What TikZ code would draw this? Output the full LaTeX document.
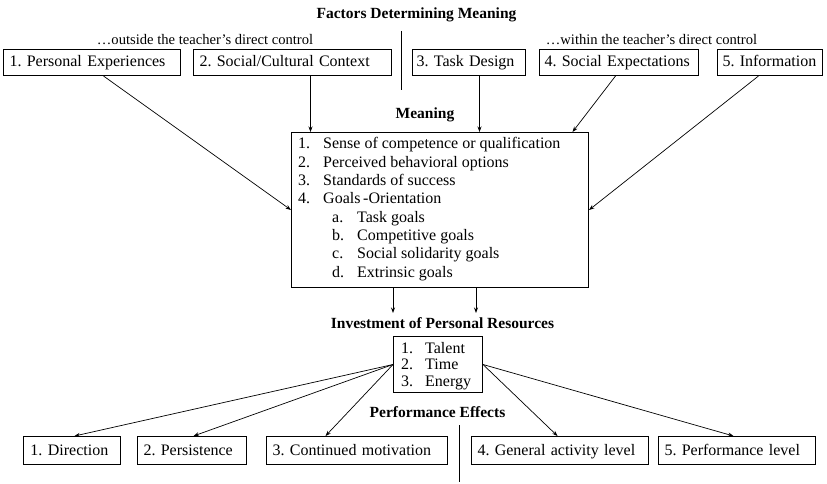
\documentclass[tikz,border=0pt]{standalone}
\usepackage{fontspec}
\setmainfont{Liberation Serif}
\usetikzlibrary{arrows.meta}
\begin{document}
\frenchspacing
\begin{tikzpicture}[x=1pt,y=-1pt,
  box/.style={draw, line width=1pt, anchor=north west, inner xsep=6pt, inner ysep=0pt,
    align=left, text height=12pt, text depth=3pt, font=\frenchspacing\fontsize{16}{19}\selectfont},
  bigbox/.style={draw, line width=1pt, anchor=north west, inner sep=0pt},
  ttl/.style={font=\fontsize{15.5}{18}\selectfont\bfseries, anchor=base, inner sep=0pt},
  sub/.style={font=\fontsize{14.6}{17}\selectfont, anchor=base, inner sep=0pt},
  lbl/.style={font=\fontsize{16}{19}\selectfont, anchor=base west, inner sep=0pt},
  arr/.style={line width=0.7pt, -{Stealth[length=5.5pt,width=4pt]}},
  sepline/.style={line width=1pt}]
\useasboundingbox (0,0) rectangle (827,484);

% titles
\node[ttl] (tFactors) at (416.5,19) {Factors Determining Meaning};
\node[sub] (tOut) at (205,45) {…outside the teacher’s direct control};
\node[sub] (tIn) at (651.5,45) {…within the teacher’s direct control};
\node[ttl] (tMeaning) at (425,119) {Meaning};
\node[ttl] (tInvest) at (442.5,328) {Investment of Personal Resources};
\node[ttl] (tPerf) at (437.5,417) {Performance Effects};

% separators
\coordinate (s1a) at (401,31); \coordinate (s1b) at (401,90);
\coordinate (s2a) at (459,425); \coordinate (s2b) at (459,482);
\draw[sepline] (s1a) -- (s1b);
\draw[sepline] (s2a) -- (s2b);

% top boxes
\node[box, minimum width=177, minimum height=26, text width=165] (pe) at (3,49) {\mbox{1. Personal Experiences}};
\node[box, minimum width=198, minimum height=26, text width=186] (sc) at (193,49) {\mbox{2. Social/Cultural Context}};
\node[box, minimum width=113, minimum height=26, text width=105, inner xsep=4pt] (td) at (412,49) {\mbox{3. Task Design}};
\node[box, minimum width=159, minimum height=26, text width=149, inner xsep=5pt] (se) at (539,49) {\mbox{4. Social Expectations}};
\node[box, minimum width=105, minimum height=26, text width=95, inner xsep=5pt] (inf) at (717,49) {\mbox{5. Information}};

% meaning box
\node[bigbox, minimum width=297, minimum height=155] (meaning) at (291,132) {};
\node[lbl] (m1n) at (298,149) {1.}; \node[lbl] (m1) at (323,149) {Sense of competence or qualification};
\node[lbl] (m2n) at (298,167.3) {2.}; \node[lbl] (m2) at (323,167.3) {Perceived behavioral options};
\node[lbl] (m3n) at (298,185.6) {3.}; \node[lbl] (m3) at (323,185.6) {Standards of success};
\node[lbl] (m4n) at (298,203.9) {4.}; \node[lbl] (m4) at (323,203.9) {Goals\,-Orientation};
\node[lbl] (m5n) at (332,222.2) {a.}; \node[lbl] (m5) at (357,222.2) {Task goals};
\node[lbl] (m6n) at (332,240.5) {b.}; \node[lbl] (m6) at (357,240.5) {Competitive goals};
\node[lbl] (m7n) at (332,258.8) {c.}; \node[lbl] (m7) at (357,258.8) {Social solidarity goals};
\node[lbl] (m8n) at (332,277.1) {d.}; \node[lbl] (m8) at (357,277.1) {Extrinsic goals};

% resource box
\node[bigbox, minimum width=89, minimum height=56] (res) at (393,336) {};
\node[lbl] (r1n) at (401,353) {1.}; \node[lbl] (r1) at (425,353) {Talent};
\node[lbl] (r2n) at (401,369.5) {2.}; \node[lbl] (r2) at (425,369.5) {Time};
\node[lbl] (r3n) at (401,386) {3.}; \node[lbl] (r3) at (425,386) {Energy};

% bottom boxes
\node[box, minimum width=95, minimum height=28, text width=83, inner xsep=7pt] (dir) at (23,436) {\mbox{1. Direction}};
\node[box, minimum width=109, minimum height=28, text width=97] (per) at (137,436) {\mbox{2. Persistence}};
\node[box, minimum width=181, minimum height=28, text width=169] (cm) at (266,436) {\mbox{3. Continued motivation}};
\node[box, minimum width=177, minimum height=28, text width=165] (gal) at (471,436) {\mbox{4. General activity level}};
\node[box, minimum width=157, minimum height=28, text width=145] (pl) at (658,436) {\mbox{5. Performance level}};

% arrows into meaning
\draw[arr] ([xshift=11.5pt]pe.south) -- (meaning.west);
\draw[arr] ([xshift=18pt]sc.south) -- ([xshift=18pt]sc.south |- meaning.north);
\draw[arr] ([xshift=10.5pt]td.south) -- ([xshift=10.5pt]td.south |- meaning.north);
\draw[arr] ([xshift=-3.5pt]se.south) -- ([xshift=132.5pt]meaning.north);
\draw[arr] ([xshift=-11.5pt]inf.south) -- (meaning.east);

% meaning down
\coordinate (d1) at (393,313);
\coordinate (d2) at (476,313);
\draw[arr] (meaning.south -| d1) -- (d1);
\draw[arr] (meaning.south -| d2) -- (d2);

% resources to effects
\draw[arr] (res.west) -- ([xshift=2.5pt]dir.north);
\draw[arr] (res.west) -- ([xshift=1.5pt]per.north);
\draw[arr] (res.west) -- ([xshift=-31.5pt]cm.north);
\draw[arr] (res.east) -- ([xshift=-2.5pt]gal.north);
\draw[arr] (res.east) -- ([xshift=-3.5pt]pl.north);
\end{tikzpicture}
\end{document}
